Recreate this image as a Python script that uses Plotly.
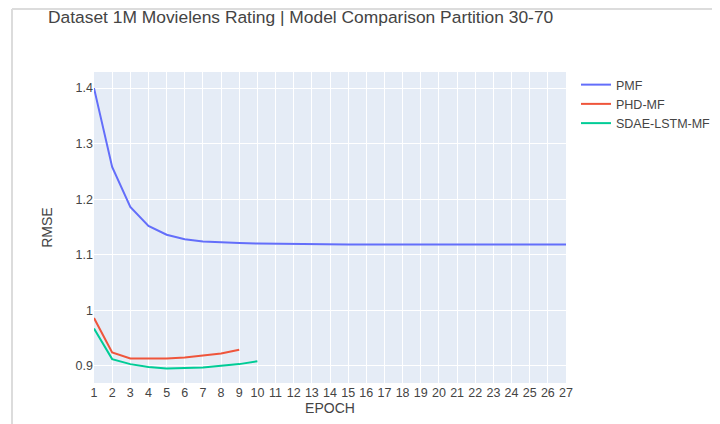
import plotly.graph_objects as go

epochs_pmf = list(range(1, 28))
pmf = [1.400, 1.258, 1.186, 1.152, 1.136, 1.128, 1.124, 1.122, 1.121, 1.120,
       1.1195, 1.119, 1.119, 1.1188, 1.1185, 1.1185, 1.1185, 1.1185, 1.1185, 1.1185,
       1.1185, 1.1185, 1.1185, 1.1185, 1.1185, 1.1185, 1.1185]
epochs_phd = list(range(1, 10))
phd = [0.986, 0.924, 0.913, 0.913, 0.913, 0.915, 0.919, 0.922, 0.929]
epochs_sdae = list(range(1, 11))
sdae = [0.967, 0.912, 0.903, 0.898, 0.895, 0.896, 0.897, 0.900, 0.903, 0.908]

fig = go.Figure()
fig.add_trace(go.Scatter(x=epochs_pmf, y=pmf, mode="lines", name="PMF",
                         line=dict(color="#636efa", width=2)))
fig.add_trace(go.Scatter(x=epochs_phd, y=phd, mode="lines", name="PHD-MF",
                         line=dict(color="#ef553b", width=2)))
fig.add_trace(go.Scatter(x=epochs_sdae, y=sdae, mode="lines", name="SDAE-LSTM-MF",
                         line=dict(color="#00cc96", width=2)))

# page is offset by the 8px body margin; figure sized to fit the window
OFF = 8
W, H = 720 - OFF, 424 - OFF
L, T = 94 - OFF, 72 - OFF
PR, PB = 566 - OFF, 383 - OFF
R, B = W - PR, H - PB
pw, ph = W - L - R, H - T - B

def px_x(p):
    return (p - OFF - L) / pw

def px_y(p):
    return 1 - (p - OFF - T) / ph

fig.update_layout(
    template="plotly",
    width=W, height=H,
    margin=dict(l=L, r=R, t=T, b=B, pad=0, autoexpand=False),
    font=dict(family="Liberation Sans, Arial, sans-serif", size=12.5, color="#444"),
    title=dict(text="Dataset 1M Movielens Rating | Model Comparison Partition 30-70",
               x=(48 - OFF) / W, xanchor="left", y=1 - (17 - OFF) / H, yanchor="middle",
               font=dict(size=17.4, color="#444")),
    xaxis=dict(title=dict(text="EPOCH", standoff=4, font=dict(size=14)),
               range=[1, 27], dtick=1, tickmode="linear", tick0=1,
               showline=False, zeroline=False, automargin=False,
               tickfont=dict(size=12.5)),
    yaxis=dict(title=dict(text="RMSE", standoff=19, font=dict(size=14)),
               range=[0.869, 1.429], dtick=0.1, tick0=0.9,
               zeroline=False, automargin=False, tickfont=dict(size=12.5)),
    legend=dict(x=px_x(576), y=px_y(70), xanchor="left", yanchor="top",
                font=dict(size=12.5)),
    shapes=[
        dict(type="line", xref="paper", yref="paper", x0=px_x(12), x1=px_x(740),
             y0=px_y(9), y1=px_y(9), line=dict(color="#dcdcdc", width=2)),
        dict(type="line", xref="paper", yref="paper", x0=px_x(12), x1=px_x(12),
             y0=px_y(9), y1=px_y(440), line=dict(color="#dcdcdc", width=2)),
    ],
)

fig.write_html("out.html")
